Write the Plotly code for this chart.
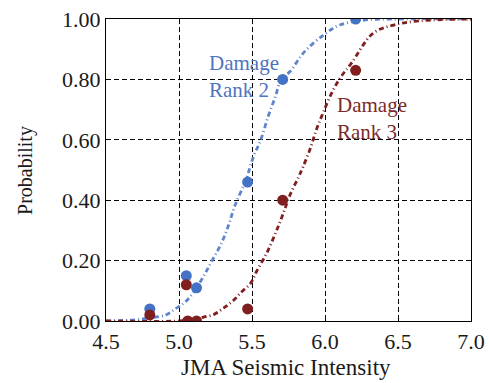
import plotly.graph_objects as go

# Observed points
r2_x = [4.80, 5.05, 5.12, 5.47, 5.71, 6.21]
r2_y = [0.04, 0.15, 0.11, 0.46, 0.80, 1.00]
r3_x = [4.80, 5.05, 5.06, 5.12, 5.47, 5.71, 6.21]
r3_y = [0.02, 0.12, 0.00, 0.00, 0.04, 0.40, 0.83]

# Fitted curves
c2_x = [4.50, 4.70, 4.80, 4.91, 4.97, 5.05, 5.15, 5.22, 5.29, 5.34, 5.38, 5.46, 5.51, 5.56, 5.61, 5.66, 5.70, 5.76, 5.86, 5.99, 6.10, 6.28, 6.50, 7.00]
c2_y = [0.000, 0.004, 0.010, 0.020, 0.039, 0.066, 0.133, 0.194, 0.257, 0.318, 0.378, 0.470, 0.544, 0.600, 0.676, 0.743, 0.800, 0.826, 0.892, 0.947, 0.980, 0.997, 1.000, 1.000]
c3_x = [4.50, 5.00, 5.10, 5.17, 5.24, 5.30, 5.37, 5.43, 5.49, 5.53, 5.60, 5.66, 5.71, 5.76, 5.82, 5.85, 5.90, 5.94, 5.99, 6.05, 6.11, 6.18, 6.33, 6.47, 6.65, 7.00]
c3_y = [0.000, 0.000, 0.005, 0.013, 0.022, 0.041, 0.067, 0.097, 0.125, 0.163, 0.224, 0.290, 0.351, 0.417, 0.478, 0.511, 0.572, 0.632, 0.693, 0.759, 0.809, 0.853, 0.953, 0.980, 0.994, 1.000]

x_ticks = [4.5, 5.0, 5.5, 6.0, 6.5, 7.0]
y_ticks = [0.0, 0.2, 0.4, 0.6, 0.8, 1.0]

blue = "#4472C4"
blue_line = "#5E84CC"
red = "#7F1F20"
ink = "#1a1a1a"

fig = go.Figure()
fig.add_trace(go.Scatter(x=c2_x, y=c2_y, mode="lines", line=dict(color=blue_line, width=2.8, dash="5px,3px,1px,3px", shape="spline"), hoverinfo="skip"))
fig.add_trace(go.Scatter(x=c3_x, y=c3_y, mode="lines", line=dict(color=red, width=2.8, dash="5px,3px,1px,3px", shape="spline"), hoverinfo="skip"))
fig.add_trace(go.Scatter(x=r2_x, y=r2_y, mode="markers", marker=dict(color=blue, size=11)))
fig.add_trace(go.Scatter(x=r3_x, y=r3_y, mode="markers", marker=dict(color=red, size=11)))

font = "Liberation Serif, Times New Roman, serif"
fig.add_annotation(x=5.19, y=0.808, xref="x", yref="y", text="Damage<br>Rank 2", showarrow=False,
                   xanchor="left", yanchor="middle", align="left", font=dict(family=font, size=21, color="#4F74BF"))
fig.add_annotation(x=6.07, y=0.672, xref="x", yref="y", text="Damage<br>Rank 3", showarrow=False,
                   xanchor="left", yanchor="middle", align="left", font=dict(family=font, size=21, color="#7D2A2A"))
# axis titles
fig.add_annotation(x=0.494, y=-0.153, xref="paper", yref="paper", text="JMA Seismic Intensity", showarrow=False,
                   xanchor="center", yanchor="middle", font=dict(family=font, size=23, color=ink))
fig.add_annotation(x=-0.222, y=0.5, xref="paper", yref="paper", text="Probability", showarrow=False, textangle=-90,
                   xanchor="center", yanchor="middle", font=dict(family=font, size=20, color=ink))

axis_common = dict(showline=True, linecolor="black", linewidth=1.2, mirror="ticks", ticks="inside", ticklen=5,
                   tickcolor="black", showgrid=True, gridcolor="black", griddash="5px,3px", gridwidth=1,
                   zeroline=False, automargin=False, tickfont=dict(family=font, size=22, color=ink))
fig.update_xaxes(range=[4.5, 7.0], tickvals=x_ticks, ticktext=[f"{v:.1f}" for v in x_ticks], **axis_common)
fig.update_yaxes(range=[0, 1.0], tickvals=y_ticks, ticktext=[f"{v:.2f}" for v in y_ticks], **axis_common)
fig.update_layout(width=489, height=383, margin=dict(l=106, r=18, t=19, b=62), showlegend=False,
                  plot_bgcolor="white", paper_bgcolor="white")
fig.write_html("out.html")
